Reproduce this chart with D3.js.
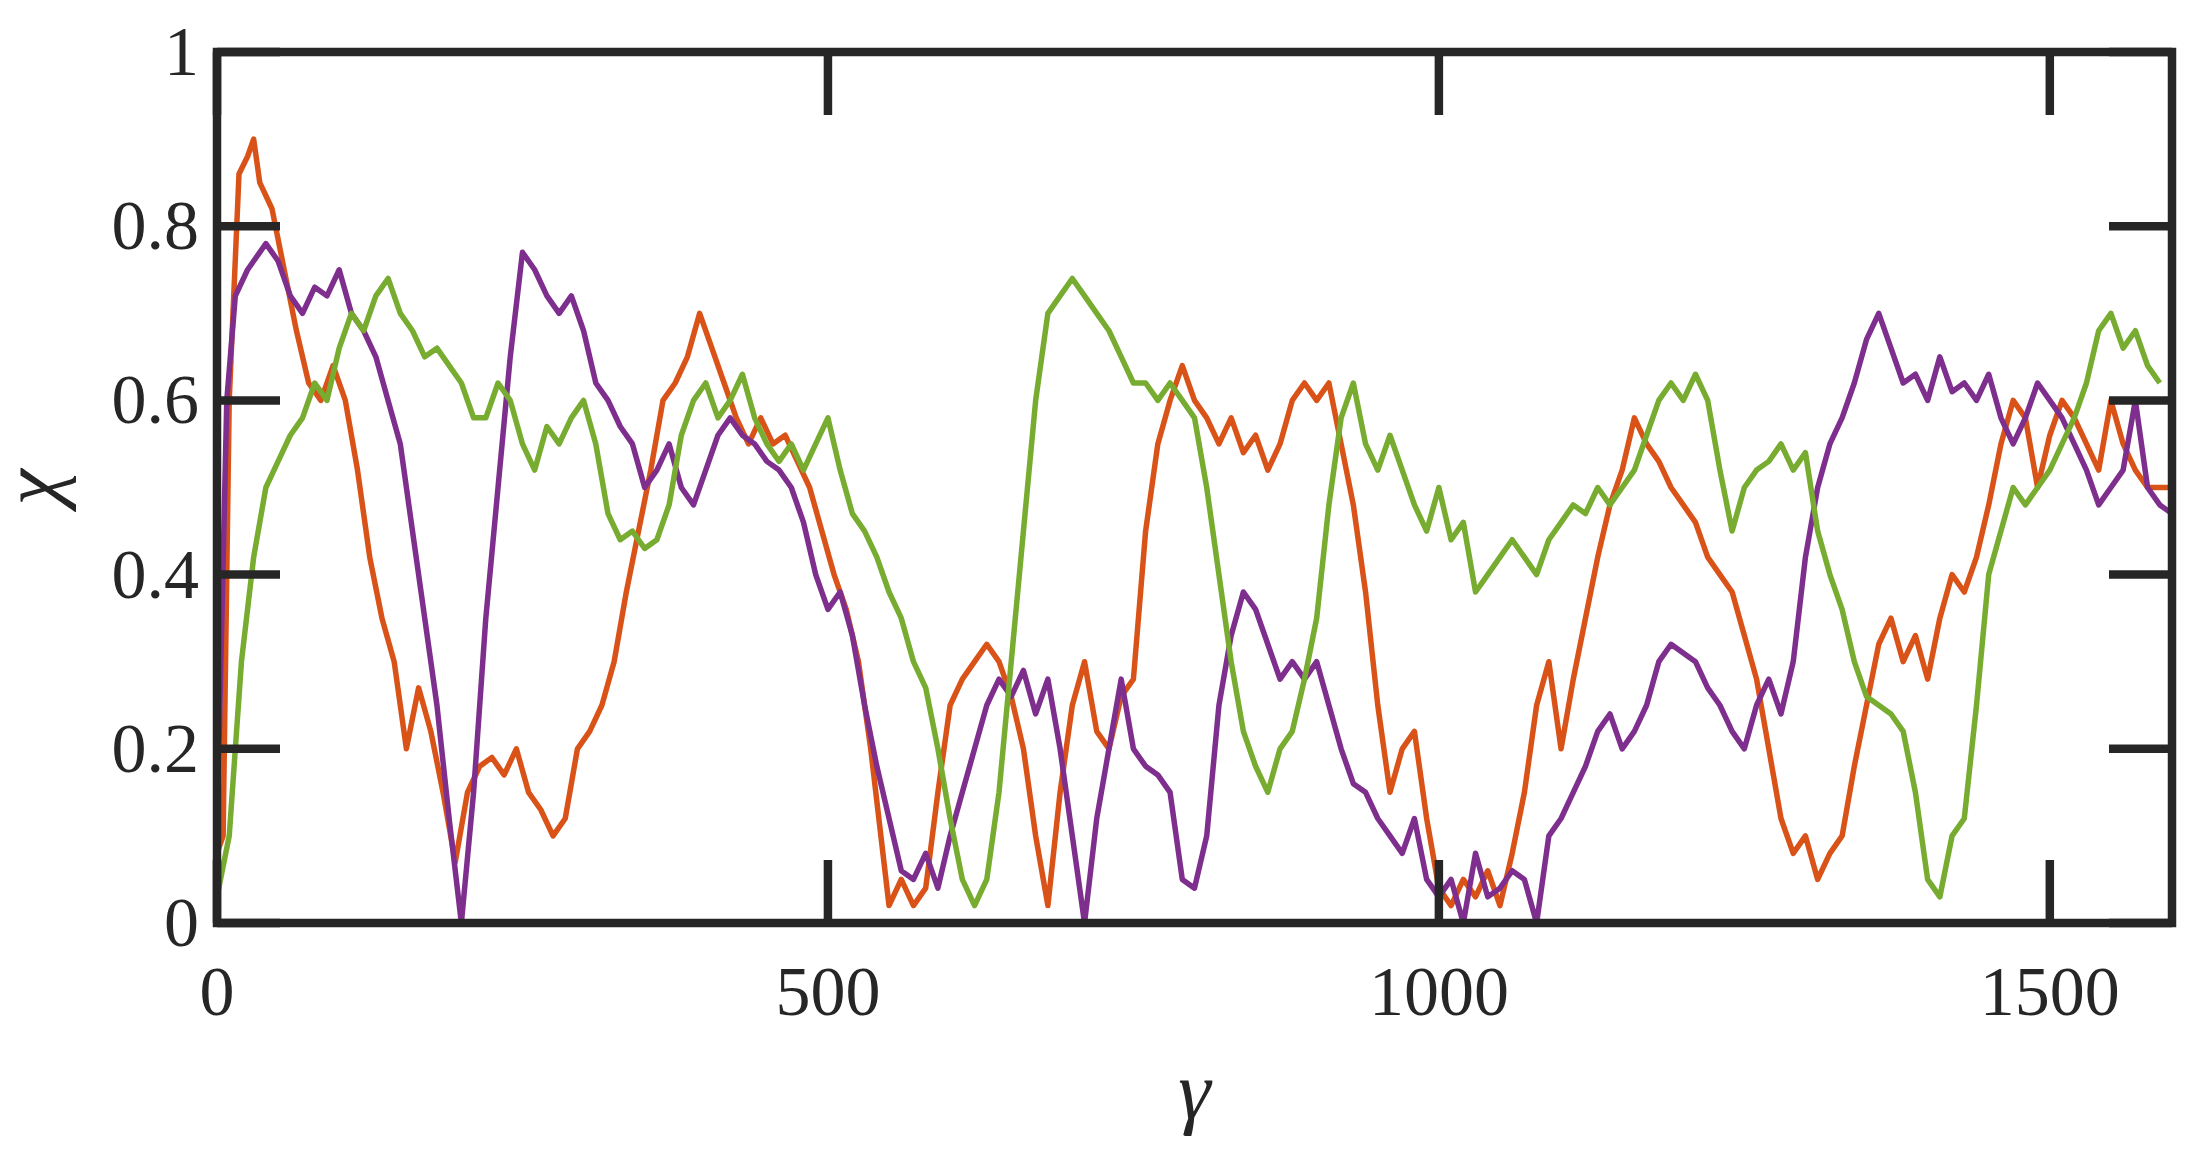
<!DOCTYPE html>
<html><head><meta charset="utf-8">
<script src="https://cdn.jsdelivr.net/npm/d3@7"></script>
<style>body{margin:0;background:#fff}</style>
</head><body>
<svg id="chart" width="2200" height="1174"></svg>
<script>
// series as [gamma, chi] pairs
var orange = [[0,0.08],[5,0.1],[10,0.6],[18,0.86],[25,0.88],[30,0.9],[35,0.85],[45,0.82],[55,0.75],[65,0.68],[75,0.62],[85,0.6],[95,0.64],[105,0.6],[115,0.52],[125,0.42],[135,0.35],[145,0.3],[155,0.2],[165,0.27],[175,0.22],[185,0.15],[195,0.07],[205,0.15],[215,0.18],[225,0.19],[235,0.17],[245,0.2],[255,0.15],[265,0.13],[275,0.1],[285,0.12],[295,0.2],[305,0.22],[315,0.25],[325,0.3],[335,0.38],[345,0.45],[355,0.52],[365,0.6],[375,0.62],[385,0.65],[395,0.7],[405,0.66],[415,0.62],[425,0.58],[435,0.55],[445,0.58],[455,0.55],[465,0.56],[475,0.53],[485,0.5],[495,0.45],[505,0.4],[515,0.36],[525,0.3],[535,0.2],[545,0.08],[550,0.02],[560,0.05],[570,0.02],[580,0.04],[590,0.15],[600,0.25],[610,0.28],[620,0.3],[630,0.32],[640,0.3],[650,0.26],[660,0.2],[670,0.1],[680,0.02],[690,0.15],[700,0.25],[710,0.3],[720,0.22],[730,0.2],[740,0.26],[750,0.28],[760,0.45],[770,0.55],[780,0.6],[790,0.64],[800,0.6],[810,0.58],[820,0.55],[830,0.58],[840,0.54],[850,0.56],[860,0.52],[870,0.55],[880,0.6],[890,0.62],[900,0.6],[910,0.62],[920,0.55],[930,0.48],[940,0.38],[950,0.25],[960,0.15],[970,0.2],[980,0.22],[990,0.12],[1000,0.04],[1010,0.02],[1020,0.05],[1030,0.03],[1040,0.06],[1050,0.02],[1060,0.08],[1070,0.15],[1080,0.25],[1090,0.3],[1100,0.2],[1110,0.28],[1120,0.35],[1130,0.42],[1140,0.48],[1150,0.52],[1160,0.58],[1170,0.55],[1180,0.53],[1190,0.5],[1200,0.48],[1210,0.46],[1220,0.42],[1230,0.4],[1240,0.38],[1250,0.33],[1260,0.28],[1270,0.2],[1280,0.12],[1290,0.08],[1300,0.1],[1310,0.05],[1320,0.08],[1330,0.1],[1340,0.18],[1350,0.25],[1360,0.32],[1370,0.35],[1380,0.3],[1390,0.33],[1400,0.28],[1410,0.35],[1420,0.4],[1430,0.38],[1440,0.42],[1450,0.48],[1460,0.55],[1470,0.6],[1480,0.58],[1490,0.5],[1500,0.56],[1510,0.6],[1520,0.58],[1530,0.55],[1540,0.52],[1550,0.6],[1560,0.55],[1570,0.52],[1580,0.5],[1600,0.5]];

var purple = [[0,0.1],[8,0.6],[15,0.72],[25,0.75],[40,0.78],[50,0.76],[60,0.72],[70,0.7],[80,0.73],[90,0.72],[100,0.75],[110,0.7],[120,0.68],[130,0.65],[140,0.6],[150,0.55],[160,0.45],[170,0.35],[180,0.25],[190,0.12],[200,0.0],[210,0.15],[220,0.35],[230,0.5],[240,0.65],[250,0.77],[260,0.75],[270,0.72],[280,0.7],[290,0.72],[300,0.68],[310,0.62],[320,0.6],[330,0.57],[340,0.55],[350,0.5],[360,0.52],[370,0.55],[380,0.5],[390,0.48],[400,0.52],[410,0.56],[420,0.58],[430,0.56],[440,0.55],[450,0.53],[460,0.52],[470,0.5],[480,0.46],[490,0.4],[500,0.36],[510,0.38],[520,0.33],[530,0.25],[540,0.18],[550,0.12],[560,0.06],[570,0.05],[580,0.08],[590,0.04],[600,0.1],[610,0.15],[620,0.2],[630,0.25],[640,0.28],[650,0.26],[660,0.29],[670,0.24],[680,0.28],[690,0.2],[700,0.1],[710,0.0],[720,0.12],[730,0.2],[740,0.28],[750,0.2],[760,0.18],[770,0.17],[780,0.15],[790,0.05],[800,0.04],[810,0.1],[820,0.25],[830,0.33],[840,0.38],[850,0.36],[860,0.32],[870,0.28],[880,0.3],[890,0.28],[900,0.3],[910,0.25],[920,0.2],[930,0.16],[940,0.15],[950,0.12],[960,0.1],[970,0.08],[980,0.12],[990,0.05],[1000,0.03],[1010,0.05],[1020,0.0],[1030,0.08],[1040,0.03],[1050,0.04],[1060,0.06],[1070,0.05],[1080,0.0],[1090,0.1],[1100,0.12],[1110,0.15],[1120,0.18],[1130,0.22],[1140,0.24],[1150,0.2],[1160,0.22],[1170,0.25],[1180,0.3],[1190,0.32],[1200,0.31],[1210,0.3],[1220,0.27],[1230,0.25],[1240,0.22],[1250,0.2],[1260,0.25],[1270,0.28],[1280,0.24],[1290,0.3],[1300,0.42],[1310,0.5],[1320,0.55],[1330,0.58],[1340,0.62],[1350,0.67],[1360,0.7],[1370,0.66],[1380,0.62],[1390,0.63],[1400,0.6],[1410,0.65],[1420,0.61],[1430,0.62],[1440,0.6],[1450,0.63],[1460,0.58],[1470,0.55],[1480,0.58],[1490,0.62],[1500,0.6],[1510,0.58],[1520,0.55],[1530,0.52],[1540,0.48],[1550,0.5],[1560,0.52],[1570,0.6],[1580,0.5],[1590,0.48],[1600,0.47]];

var green = [[0,0.03],[10,0.1],[20,0.3],[30,0.42],[40,0.5],[50,0.53],[60,0.56],[70,0.58],[80,0.62],[90,0.6],[100,0.66],[110,0.7],[120,0.68],[130,0.72],[140,0.74],[150,0.7],[160,0.68],[170,0.65],[180,0.66],[190,0.64],[200,0.62],[210,0.58],[220,0.58],[230,0.62],[240,0.6],[250,0.55],[260,0.52],[270,0.57],[280,0.55],[290,0.58],[300,0.6],[310,0.55],[320,0.47],[330,0.44],[340,0.45],[350,0.43],[360,0.44],[370,0.48],[380,0.56],[390,0.6],[400,0.62],[410,0.58],[420,0.6],[430,0.63],[440,0.58],[450,0.55],[460,0.53],[470,0.55],[480,0.52],[490,0.55],[500,0.58],[510,0.52],[520,0.47],[530,0.45],[540,0.42],[550,0.38],[560,0.35],[570,0.3],[580,0.27],[590,0.2],[600,0.12],[610,0.05],[620,0.02],[630,0.05],[640,0.15],[650,0.3],[660,0.45],[670,0.6],[680,0.7],[690,0.72],[700,0.74],[710,0.72],[720,0.7],[730,0.68],[740,0.65],[750,0.62],[760,0.62],[770,0.6],[780,0.62],[790,0.6],[800,0.58],[810,0.5],[820,0.4],[830,0.3],[840,0.22],[850,0.18],[860,0.15],[870,0.2],[880,0.22],[890,0.28],[900,0.35],[910,0.48],[920,0.58],[930,0.62],[940,0.55],[950,0.52],[960,0.56],[970,0.52],[980,0.48],[990,0.45],[1000,0.5],[1010,0.44],[1020,0.46],[1030,0.38],[1040,0.4],[1050,0.42],[1060,0.44],[1070,0.42],[1080,0.4],[1090,0.44],[1100,0.46],[1110,0.48],[1120,0.47],[1130,0.5],[1140,0.48],[1150,0.5],[1160,0.52],[1170,0.56],[1180,0.6],[1190,0.62],[1200,0.6],[1210,0.63],[1220,0.6],[1230,0.52],[1240,0.45],[1250,0.5],[1260,0.52],[1270,0.53],[1280,0.55],[1290,0.52],[1300,0.54],[1310,0.45],[1320,0.4],[1330,0.36],[1340,0.3],[1350,0.26],[1360,0.25],[1370,0.24],[1380,0.22],[1390,0.15],[1400,0.05],[1410,0.03],[1420,0.1],[1430,0.12],[1440,0.25],[1450,0.4],[1460,0.45],[1470,0.5],[1480,0.48],[1490,0.5],[1500,0.52],[1510,0.55],[1520,0.58],[1530,0.62],[1540,0.68],[1550,0.7],[1560,0.66],[1570,0.68],[1580,0.64],[1590,0.62]];

var xTicks = [0, 500, 1000, 1500];
var yTicks = [0, 0.2, 0.4, 0.6, 0.8, 1];
var yTickLabels = ['0', '0.2', '0.4', '0.6', '0.8', '1'];

var plotLeft = 217, plotRight = 2172, plotTop = 52, plotBottom = 923;
var svg = d3.select('#chart');

var x = d3.scaleLinear().domain([0, 1600]).range([plotLeft, plotRight]);
var y = d3.scaleLinear().domain([0, 1]).range([plotBottom, plotTop]);

svg.append('clipPath').attr('id', 'clip')
	.append('rect').attr('x', plotLeft).attr('y', plotTop)
	.attr('width', plotRight - plotLeft).attr('height', plotBottom - plotTop);

var line = d3.line().x(function(d){ return x(d[0]); }).y(function(d){ return y(d[1]); });

var series = [[orange, '#D95319'], [purple, '#7E2F8E'], [green, '#77AC30']];
svg.append('g').attr('clip-path', 'url(#clip)')
	.selectAll('path').data(series).enter().append('path')
	.attr('d', function(d){ return line(d[0]); })
	.attr('fill', 'none')
	.attr('stroke', function(d){ return d[1]; })
	.attr('stroke-width', 5.5)
	.attr('stroke-linejoin', 'round');

//frame and inward ticks
var axisColor = '#262626', tickLen = 63;
var frame = svg.append('g').attr('stroke', axisColor).attr('stroke-width', 8.5).attr('fill', 'none');
frame.append('rect').attr('x', plotLeft).attr('y', plotTop).attr('width', plotRight - plotLeft).attr('height', plotBottom - plotTop);
xTicks.forEach(function(t){
	frame.append('line').attr('x1', x(t)).attr('x2', x(t)).attr('y1', plotBottom).attr('y2', plotBottom - tickLen);
	frame.append('line').attr('x1', x(t)).attr('x2', x(t)).attr('y1', plotTop).attr('y2', plotTop + tickLen);
});
yTicks.forEach(function(t){
	frame.append('line').attr('y1', y(t)).attr('y2', y(t)).attr('x1', plotLeft).attr('x2', plotLeft + tickLen);
	frame.append('line').attr('y1', y(t)).attr('y2', y(t)).attr('x1', plotRight).attr('x2', plotRight - tickLen);
});

var font = 'Liberation Serif, Times New Roman, serif';
svg.append('g').selectAll('text').data(xTicks).enter().append('text')
	.attr('x', function(d){ return x(d); }).attr('y', plotBottom + 92)
	.attr('text-anchor', 'middle').attr('font-family', font).attr('font-size', 70)
	.attr('fill', axisColor).text(function(d){ return d; });

svg.append('g').selectAll('text').data(yTicks).enter().append('text')
	.attr('x', plotLeft - 18).attr('y', function(d){ return y(d) + 23; })
	.attr('text-anchor', 'end').attr('font-family', font).attr('font-size', 70)
	.attr('fill', axisColor).text(function(d, i){ return yTickLabels[i]; });

svg.append('text').attr('x', (plotLeft + plotRight) / 2).attr('y', 1118)
	.attr('text-anchor', 'middle').attr('font-family', font).attr('font-style', 'italic')
	.attr('font-size', 82).attr('fill', axisColor).text('γ');

svg.append('text').attr('transform', 'translate(58,' + ((plotTop + plotBottom) / 2) + ') rotate(-90)')
	.attr('text-anchor', 'middle').attr('font-family', font).attr('font-style', 'italic')
	.attr('font-size', 82).attr('fill', axisColor).text('χ');
</script>
</body></html>
